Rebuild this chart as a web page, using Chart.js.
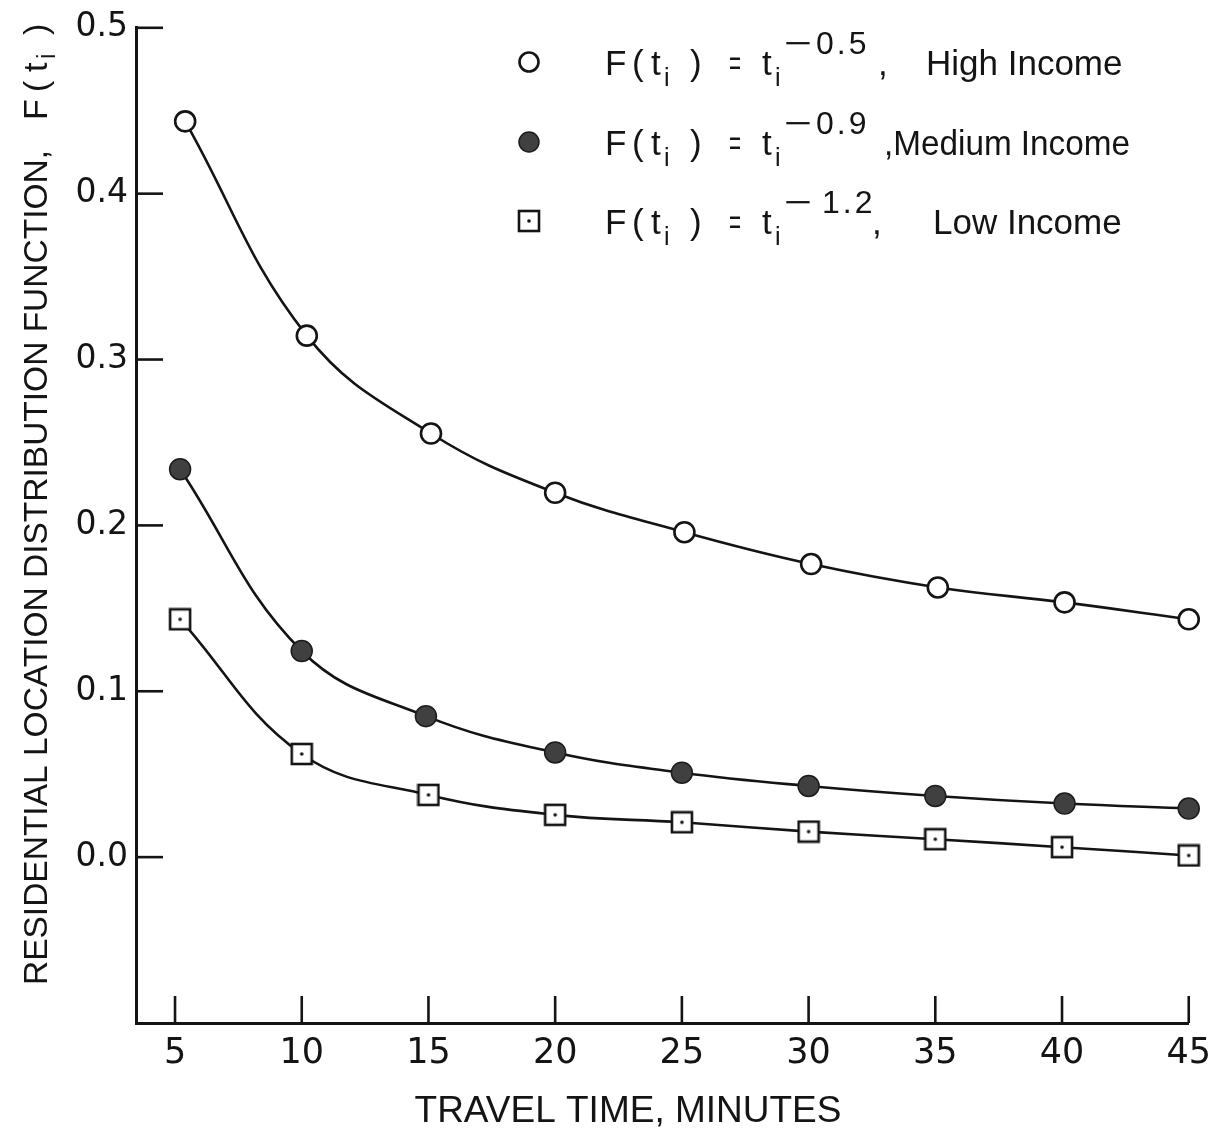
<!DOCTYPE html>
<html>
<head>
<meta charset="utf-8">
<script src="https://cdn.jsdelivr.net/npm/chart.js@4/dist/chart.umd.min.js"></script>
<style>
  html, body { margin: 0; padding: 0; background: #ffffff; }
  #wrap { width: 1221px; height: 1134px; }
</style>
</head>
<body>
<div id="wrap"><canvas id="c" width="1221" height="1134"></canvas></div>
<script>
// Travel time (minutes) and the residential location distribution function F(t_i)
const travelTimeTicks = [5, 10, 15, 20, 25, 30, 35, 40, 45];
const fTicks = [0.0, 0.1, 0.2, 0.3, 0.4, 0.5];

const highX = [5.4, 10.2, 15.1, 20.0, 25.1, 30.1, 35.1, 40.1, 45.0];
const highY = [0.4436, 0.3144, 0.2554, 0.2197, 0.1959, 0.1767, 0.1626, 0.1536, 0.1434];

const mediumX = [5.2, 10.0, 14.9, 20.0, 25.0, 30.0, 35.0, 40.1, 45.0];
const mediumY = [0.2339, 0.1243, 0.0850, 0.0631, 0.0509, 0.0429, 0.0369, 0.0323, 0.0293];

const lowX = [5.2, 10.0, 15.0, 20.0, 25.0, 30.0, 35.0, 40.0, 45.0];
const lowY = [0.1434, 0.0622, 0.0375, 0.0255, 0.0210, 0.0154, 0.0108, 0.0060, 0.0010];

const seriesNames = ['High Income', 'Medium Income', 'Low Income'];
const exponentValues = ['0.5', '0.9', '1.2'];

const INK = '#141414';
const MEDIUM_FILL = '#404040';

// square marker with a centre dot, used for the low-income series
function makeSquareMarker(size) {
  const cv = document.createElement('canvas');
  cv.width = size; cv.height = size;
  const g = cv.getContext('2d');
  const lw = 2.6, s = size - 4;
  g.fillStyle = '#ffffff';
  g.fillRect(2, 2, s, s);
  g.strokeStyle = INK;
  g.lineWidth = lw;
  g.strokeRect(2, 2, s, s);
  g.fillStyle = INK;
  g.beginPath();
  g.arc(size / 2, size / 2, 1.8, 0, Math.PI * 2);
  g.fill();
  return cv;
}
const squareMarker = makeSquareMarker(24);

const toPoints = (xs, ys) => xs.map((x, i) => ({ x: x, y: ys[i] }));

// tick marks pointing into the plot area
const innerTicks = {
  id: 'innerTicks',
  afterDraw(chart) {
    const { ctx, chartArea, scales } = chart;
    ctx.save();
    ctx.strokeStyle = INK;
    ctx.lineWidth = 2.6;
    travelTimeTicks.forEach(v => {
      const px = scales.x.getPixelForValue(v);
      ctx.beginPath();
      ctx.moveTo(px, chartArea.bottom);
      ctx.lineTo(px, chartArea.bottom - 27);
      ctx.stroke();
    });
    fTicks.forEach(v => {
      const py = scales.y.getPixelForValue(v);
      ctx.beginPath();
      ctx.moveTo(chartArea.left, py);
      ctx.lineTo(chartArea.left + 27, py);
      ctx.stroke();
    });
    ctx.restore();
  }
};

// axis titles and the formula legend
const annotations = {
  id: 'annotations',
  afterDraw(chart) {
    const { ctx } = chart;
    const sans = "'Liberation Sans', Arial, sans-serif";
    ctx.save();
    ctx.fillStyle = INK;
    ctx.textBaseline = 'alphabetic';

    // x-axis title
    ctx.font = '37px ' + sans;
    ctx.textAlign = 'center';
    ctx.fillText('TRAVEL TIME, MINUTES', 628, 1122, 436);

    // y-axis title, rotated
    ctx.save();
    ctx.translate(47, 985);
    ctx.rotate(-Math.PI / 2);
    ctx.textAlign = 'left';
    ctx.font = '34px ' + sans;
    ctx.fillText('RESIDENTIAL LOCATION DISTRIBUTION FUNCTION,', 0, 0, 835);
    ctx.fillText('F', 865, 0);
    ctx.fillText('(', 893, 0);
    ctx.fillText('t', 913, 0);
    ctx.fillText(')', 950, 0);
    ctx.font = '25px ' + sans;
    ctx.fillText('i', 926, 8);
    ctx.restore();

    // legend rows
    const rowY = [62, 142, 221];
    rowY.forEach((cy, r) => {
      if (r === 0) {
        ctx.beginPath();
        ctx.arc(529, cy, 9.5, 0, Math.PI * 2);
        ctx.fillStyle = '#ffffff';
        ctx.fill();
        ctx.lineWidth = 2.6;
        ctx.strokeStyle = INK;
        ctx.stroke();
      } else if (r === 1) {
        ctx.beginPath();
        ctx.arc(529, cy, 10, 0, Math.PI * 2);
        ctx.fillStyle = MEDIUM_FILL;
        ctx.fill();
        ctx.lineWidth = 1.5;
        ctx.strokeStyle = '#1c1c1c';
        ctx.stroke();
      } else {
        ctx.drawImage(squareMarker, 529 - 12, cy - 12);
      }
      ctx.fillStyle = INK;
      const base = cy + 13;
      ctx.textAlign = 'left';
      ctx.font = '35px ' + sans;
      ctx.fillText('F', 605, base);
      ctx.fillText('(', 632, base);
      ctx.fillText('t', 651, base);
      ctx.fillText(')', 690, base);
      ctx.fillText('=', 729, base, 12);
      ctx.fillText('t', 762, base);
      ctx.font = '25px ' + sans;
      ctx.fillText('i', 664, base + 11);
      ctx.fillText('i', 775, base + 11);
      // exponent: long minus then the digits
      ctx.font = '32px ' + sans;
      ctx.save();
      ctx.translate(784, base - 21);
      ctx.scale(1.5, 1);
      ctx.fillText('\u2212', 0, 0);
      ctx.restore();
      ctx.letterSpacing = '3px';
      ctx.fillText(exponentValues[r], r === 2 ? 822 : 816, base - 21);
      ctx.letterSpacing = '0px';
      ctx.font = '35px ' + sans;
      if (r === 0) {
        ctx.fillText(',', 878, base);
        ctx.fillText(seriesNames[0], 926, base, 202);
      } else if (r === 1) {
        ctx.fillText(',' + seriesNames[1], 884, base, 246);
      } else {
        ctx.fillText(',', 872, base);
        ctx.fillText(seriesNames[2], 933, base, 195);
      }
    });
    ctx.restore();
  }
};

const lineStyle = {
  borderColor: INK,
  borderWidth: 2.6,
  tension: 0.4,
  clip: false,
  pointBorderColor: INK,
  pointHoverRadius: 10
};

new Chart(document.getElementById('c'), {
  type: 'line',
  data: {
    datasets: [
      Object.assign({}, lineStyle, {
        label: seriesNames[0],
        data: toPoints(highX, highY),
        pointStyle: 'circle',
        pointRadius: 10,
        pointBackgroundColor: '#ffffff',
        pointBorderWidth: 2.6
      }),
      Object.assign({}, lineStyle, {
        label: seriesNames[1],
        data: toPoints(mediumX, mediumY),
        pointStyle: 'circle',
        pointRadius: 10.5,
        pointBackgroundColor: MEDIUM_FILL,
        pointBorderColor: '#1c1c1c',
        pointBorderWidth: 1.5
      }),
      Object.assign({}, lineStyle, {
        label: seriesNames[2],
        data: toPoints(lowX, lowY),
        pointStyle: squareMarker,
        pointRadius: 12
      })
    ]
  },
  options: {
    responsive: false,
    animation: false,
    devicePixelRatio: 1,
    layout: { padding: { top: 24, right: 31, left: 0, bottom: 0 } },
    plugins: {
      legend: { display: false },
      tooltip: { enabled: false },
      title: { display: false }
    },
    scales: {
      x: {
        type: 'linear',
        min: 3.46,
        max: 45,
        afterFit: s => { s.height = 111; },
        afterBuildTicks: s => { s.ticks = travelTimeTicks.map(v => ({ value: v })); },
        grid: { display: false, drawTicks: false },
        border: { display: true, color: INK, width: 3 },
        ticks: {
          padding: 10,
          color: INK,
          font: { family: "'DejaVu Sans', sans-serif", size: 35 },
          callback: v => String(v)
        }
      },
      y: {
        type: 'linear',
        min: -0.1,
        max: 0.5,
        afterFit: s => { s.width = 136; },
        afterBuildTicks: s => { s.ticks = fTicks.map(v => ({ value: v })); },
        grid: { display: false, drawTicks: false },
        border: { display: true, color: INK, width: 3 },
        ticks: {
          padding: 8,
          color: INK,
          font: { family: "'DejaVu Sans', sans-serif", size: 33 },
          callback: v => Number(v).toFixed(1)
        }
      }
    }
  },
  plugins: [innerTicks, annotations]
});
</script>
</body>
</html>
